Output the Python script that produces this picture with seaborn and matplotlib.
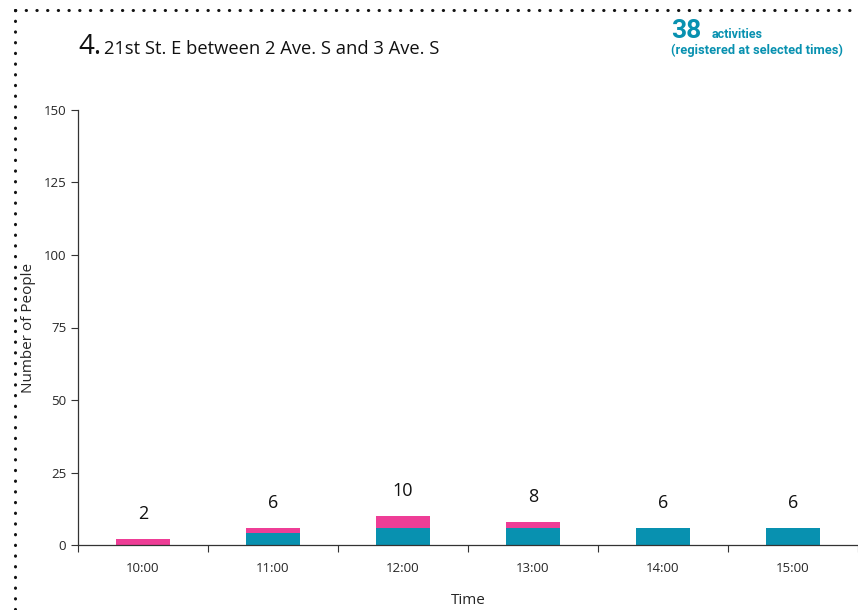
import matplotlib
matplotlib.use("Agg")
import matplotlib.pyplot as plt
import seaborn as sns
from matplotlib.lines import Line2D
from pandas import DataFrame

times = ["10:00", "11:00", "12:00", "13:00", "14:00", "15:00"]
teal_counts = [0, 4, 6, 6, 6, 6]
pink_counts = [2, 2, 4, 2, 0, 0]
total_activities = 38

TEAL = "#0891b0"
PINK = "#ee3d96"

sns.set_style("ticks")
plt.rcParams["font.family"] = ["Open Sans", "DejaVu Sans"]

df = DataFrame({"time": times, "teal": teal_counts, "pink": pink_counts})
df["total"] = df["teal"] + df["pink"]

fig = plt.figure(figsize=(8.58, 6.1), dpi=100)
ax = fig.add_axes([78 / 858, 1 - 545 / 610, 780 / 858, 435 / 610])

# stacked bars: pink total behind, teal part in front
sns.barplot(data=df, x="time", y="total", color=PINK, width=0.41,
            saturation=1, linewidth=0, ax=ax)
sns.barplot(data=df, x="time", y="teal", color=TEAL, width=0.41,
            saturation=1, linewidth=0, ax=ax)

for i, t in enumerate(df["total"]):
    ax.annotate(str(t), (i, t), xytext=(0, 18), textcoords="offset points",
                ha="center", va="center", fontsize=13, color="#111111")

ax.set_xlim(-0.5, 5.5)
ax.set_ylim(0, 150)
ax.set_yticks([0, 25, 50, 75, 100, 125, 150])
ax.set_xticks([i - 0.5 for i in range(7)], minor=False)
ax.set_xticklabels([])
ax.set_xticks(range(6), minor=True)
ax.set_xticklabels(times, minor=True)
ax.tick_params(axis="x", which="minor", length=0, pad=12, labelsize=9.5)
ax.tick_params(axis="x", which="major", length=5, color="#333333")
ax.tick_params(axis="y", length=5, labelsize=9.5, color="#333333")
sns.despine(ax=ax, top=True, right=True)
for s in ["left", "bottom"]:
    ax.spines[s].set_color("#333333")
    ax.spines[s].set_linewidth(0.9)

ax.set_xlabel("Time", fontsize=11, labelpad=13)
ax.set_ylabel("Number of People", fontsize=11)
ax.yaxis.set_label_coords(-0.054, 0.5)

# dotted frame
dots = dict(color="#111111", linestyle=(0, (0.1, 3.4)), linewidth=2.2,
            dash_capstyle="round", transform=fig.transFigure)
fig.add_artist(Line2D([15 / 858, 1], [1 - 10 / 610, 1 - 10 / 610], **dots))
fig.add_artist(Line2D([15 / 858, 15 / 858], [1 - 10 / 610, 0], **dots))

fig.text(78 / 858, 1 - 54 / 610, "4.", fontsize=20, va="baseline", color="#111111")
fig.text(104 / 858, 1 - 54 / 610, "21st St. E between 2 Ave. S and 3 Ave. S",
         fontsize=13.2, va="baseline", color="#111111")

side = ["Roboto", "DejaVu Sans"]
fig.text(671 / 858, 1 - 38 / 610, str(total_activities), fontsize=19,
         fontweight="bold", color=TEAL, family=side, va="baseline")
fig.text(712 / 858, 1 - 38 / 610, "activities", fontsize=9,
         fontweight="bold", color=TEAL, family=side, va="baseline")
fig.text(671 / 858, 1 - 54 / 610, "(registered at selected times)", fontsize=9.3,
         fontweight="bold", color=TEAL, family=side, va="baseline")

fig.savefig("out.png", dpi=100)
